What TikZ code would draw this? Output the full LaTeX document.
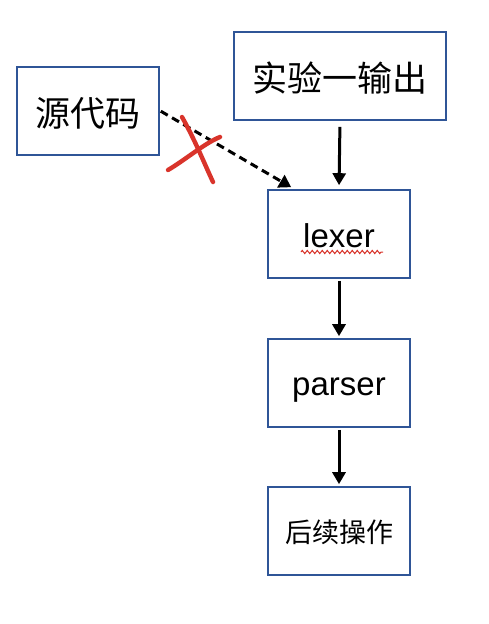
\documentclass[tikz,border=0pt]{standalone}
\usepackage{fontspec}
\setmainfont{Liberation Sans}
\newfontfamily\cjk{Noto Sans CJK SC}
\usetikzlibrary{arrows.meta,decorations.pathmorphing,calc}
\definecolor{boxblue}{HTML}{2F5597}
\definecolor{markred}{HTML}{D9342B}
\begin{document}
\begin{tikzpicture}[x=1pt,y=-1pt,
  blockbox/.style={draw=boxblue,line width=1.6pt,fill=white,minimum width=142pt,minimum height=88pt,inner sep=0pt,text depth=0pt},
  flowarrow/.style={line width=3pt,-{Triangle[length=12pt,width=13pt]}},
  dasharrow/.style={line width=3pt,dash pattern=on 8pt off 5pt,-{Triangle[length=12pt,width=14pt]}},
  redmark/.style={draw=markred,line width=4.4pt,line cap=round}]
\useasboundingbox (0,0) rectangle (488,624);
\fill[white] (0,0) rectangle (488,624);
\node[blockbox,text height=30pt] (src) at (88,111) {\cjk\fontsize{35pt}{40pt}\selectfont 源代码};
\node[blockbox,minimum width=212pt,text height=31pt] (exp) at (340,76) {\cjk\fontsize{35pt}{40pt}\selectfont 实验一输出};
\node[blockbox,text height=26pt] (lexer) at (339,234) {\fontsize{33pt}{38pt}\selectfont lexer};
\node[blockbox,text height=24pt] (parser) at (339,383) {\fontsize{33pt}{38pt}\selectfont parser};
\node[blockbox,text height=22pt] (post) at (339,531) {\cjk\fontsize{27pt}{32pt}\selectfont 后续操作};
\draw[flowarrow,shorten <=6pt,shorten >=4pt] (exp.south) -- (lexer.north);
\draw[flowarrow,shorten <=2pt,shorten >=2pt] (lexer.south) -- (parser.north);
\draw[flowarrow,shorten <=2pt,shorten >=2pt] (parser.south) -- (post.north);
\coordinate (dstart) at ($(src.north east)+(1,45)$);
\coordinate (dend) at ($(lexer.north west)+(24,-2)$);
\draw[dasharrow] (dstart) -- (dend);
\coordinate (xa1) at (182,117);
\coordinate (xa2) at (213,182);
\coordinate (xb1) at (168,170);
\coordinate (xb2) at (220,137);
\draw[redmark] (xa1) .. controls (195,140) and (205,165) .. (xa2);
\draw[redmark] (xb1) .. controls (185,160) and (205,143) .. (xb2);
\coordinate (w1) at (301,252);
\coordinate (w2) at (383,252);
\draw[markred,line width=1pt,decorate,decoration={zigzag,segment length=5pt,amplitude=1.6pt}] (w1) -- (w2);
\end{tikzpicture}
\end{document}
